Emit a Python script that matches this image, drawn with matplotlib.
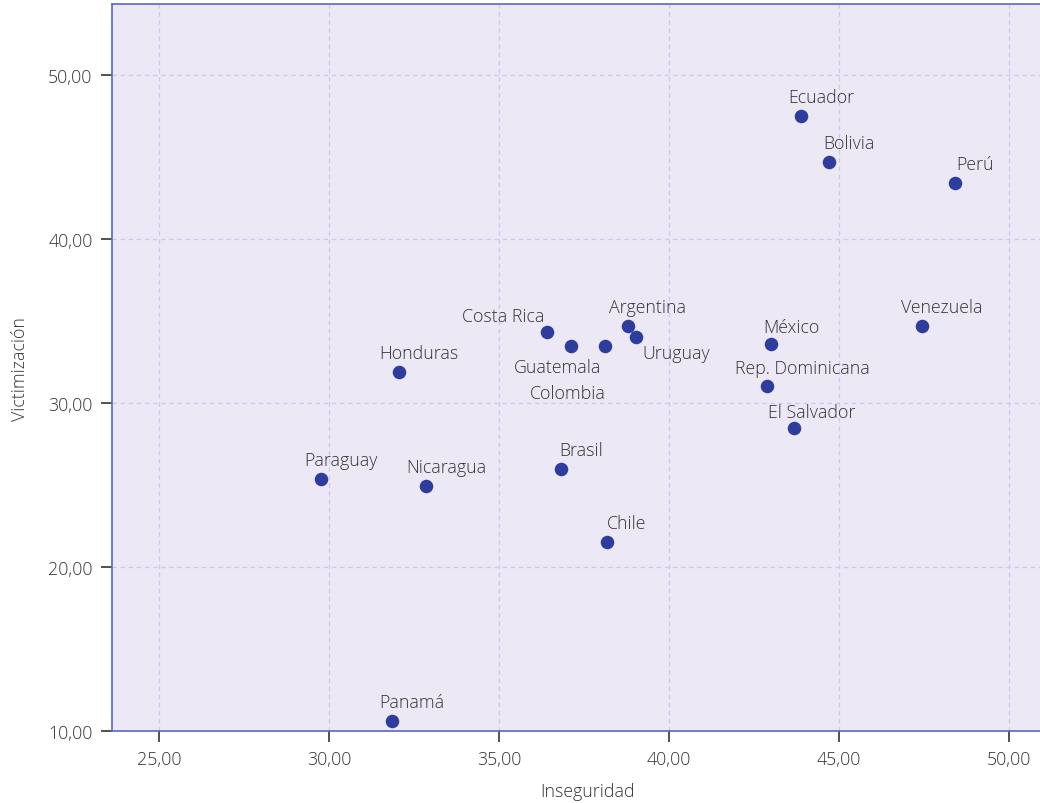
import matplotlib
matplotlib.use("Agg")
import matplotlib.pyplot as plt
from matplotlib.ticker import FuncFormatter, MultipleLocator

# data
countries = ["Ecuador", "Bolivia", "Perú", "Venezuela", "México",
             "Rep. Dominicana", "El Salvador", "Argentina", "Uruguay",
             "Colombia", "Guatemala", "Costa Rica", "Honduras", "Paraguay",
             "Nicaragua", "Brasil", "Chile", "Panamá"]
inseguridad = [43.88, 44.71, 48.41, 47.44, 43.00, 42.88, 43.68, 38.79, 39.03,
               38.12, 37.12, 36.41, 32.06, 29.76, 32.85, 36.82, 38.18, 31.85]
victimizacion = [47.50, 44.70, 43.41, 34.70, 33.60, 31.04, 28.48, 34.70, 34.02,
                 33.48, 33.48, 34.33, 31.89, 25.37, 24.94, 25.98, 21.52, 10.61]

# label offsets in pixels (dx, dy up) from the point to the label centre
offsets = {"Rep. Dominicana": (36, 18), "El Salvador": (18, 16),
           "Uruguay": (40, -16), "Colombia": (-37, -47),
           "Guatemala": (-13, -21), "Costa Rica": (-44, 16),
           "México": (20, 17)}

plt.rcParams["font.family"] = ["Open Sans", "DejaVu Sans"]
plt.rcParams["font.weight"] = "light"
text_col = "#333333"
pt_col = "#2E3D9C"
spine_col = "#5A67C2"

fig = plt.figure(figsize=(10.4, 8.04), dpi=100)
# the plot runs a little past the right edge of the picture
ax = fig.add_axes([0.1077, 0.0896, 0.9154, 0.9036])
ax.set_facecolor("#ECE8F5")

ax.scatter(inseguridad, victimizacion, s=95, color=pt_col, zorder=3,
           linewidths=0)

for name, x, y in zip(countries, inseguridad, victimizacion):
    dx, dy = offsets.get(name, (20, 19))
    ax.annotate(name, (x, y), xytext=(dx * 0.72, dy * 0.72),
                textcoords="offset points", ha="center", va="center",
                fontsize=12.8, color=text_col, zorder=4)

ax.set_xlim(23.62, 51.62)
ax.set_ylim(10, 54.27)
ax.xaxis.set_major_locator(MultipleLocator(5))
ax.yaxis.set_major_locator(MultipleLocator(10))
fmt = FuncFormatter(lambda v, p: f"{v:.2f}".replace(".", ","))
ax.xaxis.set_major_formatter(fmt)
ax.yaxis.set_major_formatter(fmt)

ax.grid(True, color="#CFC8EE", linestyle=(0, (3.5, 3)), linewidth=0.9)
ax.set_axisbelow(True)

for side in ["left", "top", "bottom"]:
    ax.spines[side].set_color(spine_col)
    ax.spines[side].set_linewidth(1.2)
ax.spines["right"].set_visible(False)

ax.tick_params(axis="both", colors="#333333", labelcolor=text_col,
               labelsize=12.8, length=8, width=1.2, pad=6)

ax.set_xlabel("Inseguridad", fontsize=12.8, fontweight="light",
              color=text_col, labelpad=10)
ax.set_ylabel("Victimización", fontsize=12.8, fontweight="light",
              color=text_col, labelpad=14)

fig.savefig("out.png", dpi=100, facecolor="white")
